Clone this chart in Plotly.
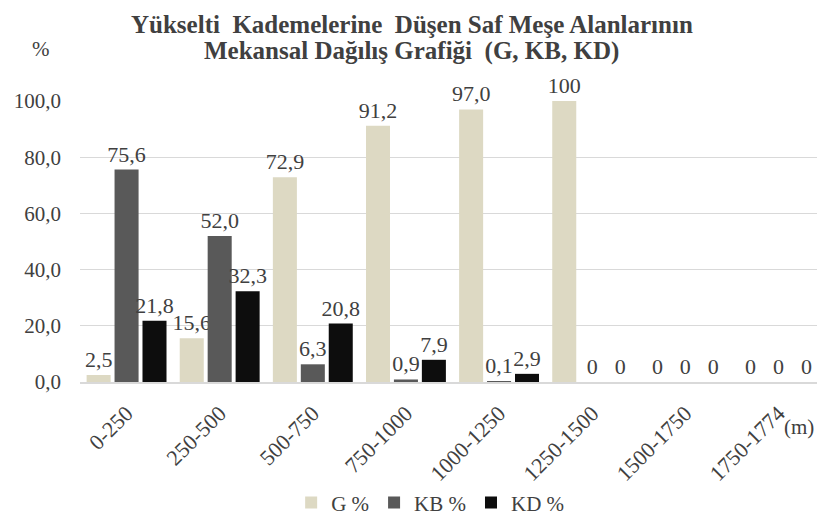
import plotly.graph_objects as go

categories = ["0-250", "250-500", "500-750", "750-1000", "1000-1250", "1250-1500", "1500-1750", "1750-1774"]
g_values = [2.5, 15.6, 72.9, 91.2, 97.0, 100, 0, 0]
kb_values = [75.6, 52.0, 6.3, 0.9, 0.1, 0, 0, 0]
kd_values = [21.8, 32.3, 20.8, 7.9, 2.9, 0, 0, 0]
y_ticks = [0, 20, 40, 60, 80, 100]
y_tick_labels = ["0,0", "20,0", "40,0", "60,0", "80,0", "100,0"]
series_names = ["G %", "KB %", "KD %"]
series_colors = ["#DDD9C3", "#595959", "#0D0D0D"]
title_lines = ["Yükselti  Kademelerine  Düşen Saf Meşe Alanlarının",
               "Mekansal Dağılış Grafiği  (G, KB, KD)"]


def fmt(v):
    if v == 0 or v == 100:
        return str(int(v))
    return f"{v:.1f}".replace(".", ",")


FONT = "Liberation Serif, Times New Roman, serif"
TXT = "#404040"

fig = go.Figure()
for name, vals, col in zip(series_names, [g_values, kb_values, kd_values], series_colors):
    fig.add_trace(go.Bar(
        x=categories, y=vals, name=name,
        marker=dict(color=col, line=dict(width=0)),
        text=[fmt(v) for v in vals],
        textposition="outside",
        textangle=0,
        constraintext="none",
        cliponaxis=False,
        textfont=dict(family=FONT, size=22, color=TXT),
    ))

fig.update_layout(
    width=825, height=521,
    margin=dict(l=72, r=8, t=93, b=147, autoexpand=False),
    paper_bgcolor="white", plot_bgcolor="white",
    barmode="group", bargap=0.1, bargroupgap=0.14,
    font=dict(family=FONT, color=TXT),
    legend=dict(
        orientation="h", x=0.47, xanchor="center",
        yref="container", y=0.05, yanchor="middle",
        font=dict(family=FONT, size=21, color=TXT),
        itemwidth=30, traceorder="normal",
    ),
    showlegend=True,
)
fig.update_xaxes(
    tickangle=-45, tickfont=dict(family=FONT, size=22, color=TXT),
    showline=True, linecolor="#D9D9D9", linewidth=1.5, ticks="",
    automargin=False, ticklabelstandoff=8,
)
fig.update_yaxes(
    range=[0, 100], tickvals=y_ticks, ticktext=y_tick_labels,
    tickfont=dict(family=FONT, size=21, color=TXT),
    showgrid=True, gridcolor="#D9D9D9", gridwidth=1.3,
    zeroline=False, showline=False, ticks="", ticklen=0,
    automargin=False, ticklabelstandoff=18,
)
for i, line in enumerate(title_lines):
    fig.add_annotation(text="<b>" + line + "</b>", xref="paper", yref="paper",
                       x=0.445, y=1.274 - i * 0.096, xanchor="center", yanchor="middle",
                       showarrow=False, font=dict(family=FONT, size=25, color="#404040"))
fig.add_annotation(text="%", xref="paper", yref="paper", x=-0.0674, y=1.235,
                   showarrow=False, font=dict(family=FONT, size=21, color=TXT))
fig.add_annotation(text="(m)", xref="paper", yref="paper", x=0.988, xanchor="right", y=-0.211,
                   showarrow=False, font=dict(family=FONT, size=21, color=TXT))

fig.write_html("out.html")
